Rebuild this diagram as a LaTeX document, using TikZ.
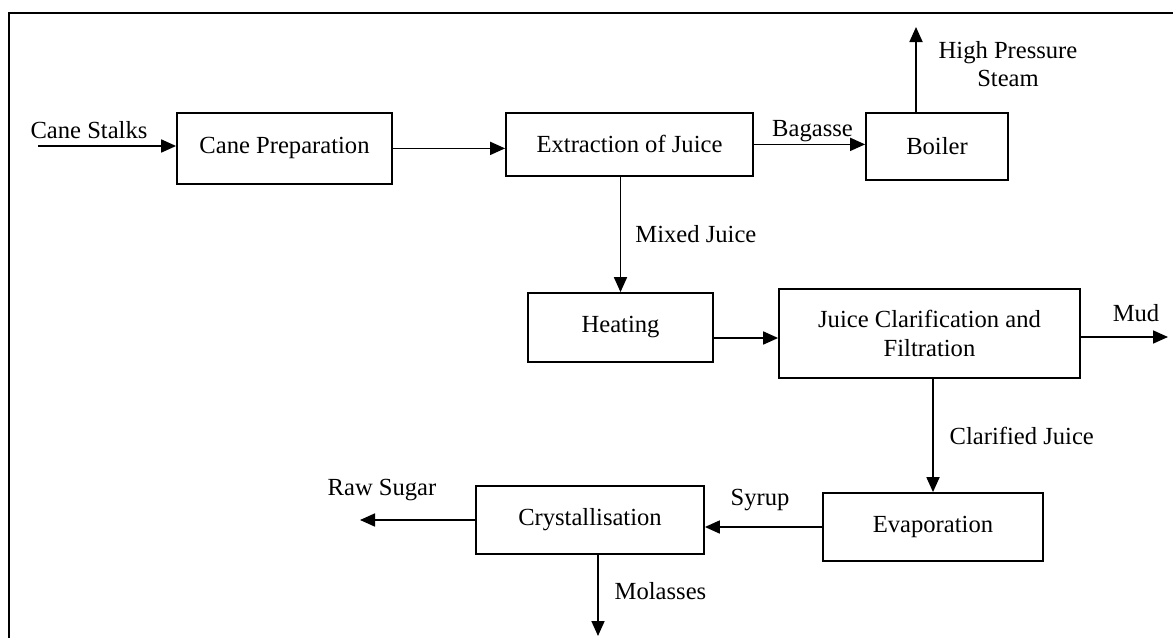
\documentclass[tikz,border=0pt]{standalone}
\usepackage{fontspec}
\setmainfont{Liberation Serif}
\usetikzlibrary{arrows.meta}

\begin{document}
\begin{tikzpicture}[
    stage/.style={draw,line width=1pt,minimum height=1.36cm,align=center,inner sep=2pt,font=\fontsize{14}{16}\selectfont},
    arr/.style={-{Triangle[length=0.3cm,width=0.26cm]},line width=1pt},
    lbl/.style={font=\fontsize{14}{16}\selectfont,inner sep=1pt}
  ]
    \useasboundingbox (0,0) rectangle (23.46,-12.76);
    \draw[line width=1.3pt] (23.46,-0.26) -- (0.18,-0.26) -- (0.18,-12.76);
    % top row
    \node[stage,anchor=north,minimum width=4.3cm,minimum height=1.42cm] (prep) at (5.69,-2.24) {Cane Preparation};
    \node[stage,anchor=north,minimum width=4.94cm,minimum height=1.26cm] (extract) at (12.59,-2.24) {Extraction of Juice};
    \node[stage,anchor=north,minimum width=2.84cm,minimum height=1.34cm] (boiler) at (18.74,-2.24) {Boiler};
    % middle and bottom rows
    \node[stage,minimum width=3.7cm,minimum height=1.38cm] (heat) at (12.41,-6.55) {Heating};
    \node[stage,minimum width=6.02cm,minimum height=1.78cm] (clar) at (18.59,-6.67) {Juice Clarification and\\Filtration};
    \node[stage,minimum width=4.4cm] (evap) at (18.66,-10.54) {Evaporation};
    \node[stage,minimum width=4.56cm] (cryst) at (11.8,-10.4) {Crystallisation};
    % free ends
    \coordinate (stalks) at (0.76,-2.92);
    \coordinate (steam) at (18.32,-0.54);
    \coordinate (mud) at (23.36,-6.74);
    \coordinate (rawsugar) at (7.2,-10.38);
    \coordinate (molasses) at (11.96,-12.72);
    % flows
    \draw[arr] (stalks) -- (stalks -| prep.west);
    \node[lbl] (lstalks) at (1.78,-2.6) {Cane Stalks};
    \draw[arr] (prep.east) -- (prep.east -| extract.west);
    \draw[arr] (extract.east) -- (extract.east -| boiler.west);
    \node[lbl] (lbagasse) at (16.25,-2.62) {Bagasse};
    \draw[arr] (boiler.north -| steam) -- (steam);
    \node[lbl,align=center] (lsteam) at (20.16,-1.28) {High Pressure\\Steam};
    \draw[arr] (extract.south -| heat.north) -- node[lbl,right=7pt] (lmixed) {Mixed Juice} (heat.north);
    \draw[arr] ([yshift=-0.21cm]heat.east) -- ([yshift=-0.21cm]heat.east -| clar.west);
    \draw[arr] (clar.east |- mud) -- (mud);
    \node[lbl] (lmud) at (22.72,-6.26) {Mud};
    \draw[arr] (clar.south -| evap.north) -- node[lbl,right=8pt] (lclar) {Clarified Juice} (evap.north);
    \draw[arr] (evap.west) -- (evap.west -| cryst.east);
    \node[lbl] (lsyrup) at (15.2,-10.0) {Syrup};
    \draw[arr] (cryst.west) -- (cryst.west -| rawsugar);
    \node[lbl] (lraw) at (7.64,-9.8) {Raw Sugar};
    \draw[arr] (cryst.south -| molasses) -- node[lbl,right=8pt,pos=0.45] (lmol) {Molasses} (molasses);
  \end{tikzpicture}
\end{document}
